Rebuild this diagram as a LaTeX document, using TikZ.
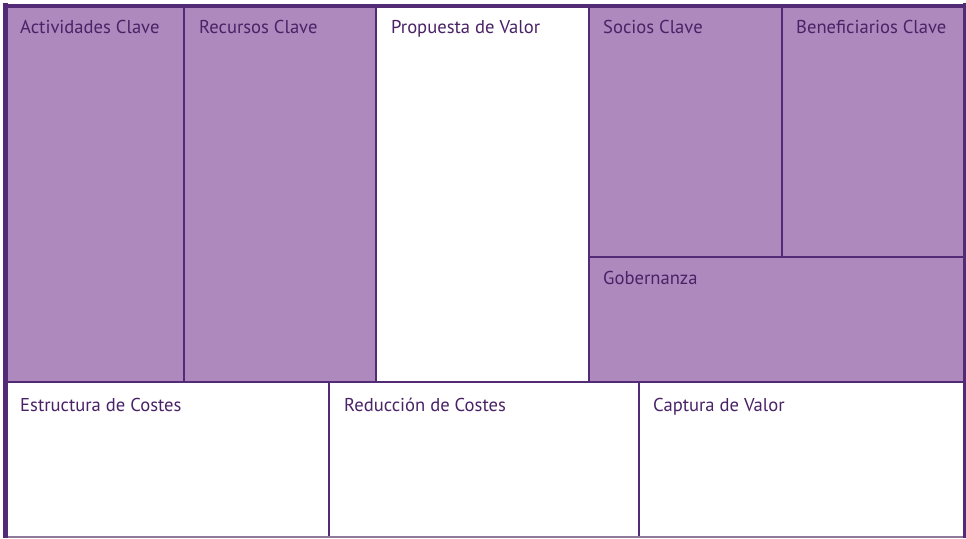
\documentclass[tikz,border=0pt]{standalone}
\usepackage{fontspec}
\setmainfont{PT Sans}
\definecolor{cellfill}{HTML}{AE89BE}
\definecolor{edge}{HTML}{532A75}
\definecolor{ink}{HTML}{4A2266}
\definecolor{bottomedge}{HTML}{8C7A98}
\begin{document}
\begin{tikzpicture}[x=1pt,y=-1pt,
  cell/.style={draw=edge, line width=1.6pt, anchor=north west, inner sep=0pt, outer sep=0pt, rectangle},
  purplecell/.style={cell, fill=cellfill},
  whitecell/.style={cell, fill=white},
  lbl/.style={anchor=base west, inner sep=0pt, text=ink, font=\fontsize{18.6}{22}\selectfont}]
\useasboundingbox (0,0) rectangle (966,538);
\fill[white] (0,0) rectangle (966,538);
% top cells
\node[purplecell, minimum width=178pt, minimum height=376pt] (act) at (6,6) {};
\node[purplecell, minimum width=192pt, minimum height=376pt] (rec) at (184,6) {};
\node[whitecell, minimum width=213pt, minimum height=376pt] (prop) at (376,6) {};
\node[purplecell, minimum width=193pt, minimum height=251pt] (soc) at (589,6) {};
\node[purplecell, minimum width=182pt, minimum height=251pt] (ben) at (782,6) {};
\node[purplecell, minimum width=375pt, minimum height=125pt] (gob) at (589,257) {};
% bottom cells
\node[whitecell, minimum width=323pt, minimum height=155pt] (est) at (6,382) {};
\node[whitecell, minimum width=310pt, minimum height=155pt] (red) at (329,382) {};
\node[whitecell, minimum width=325pt, minimum height=155pt] (cap) at (639,382) {};
% outer frame
\draw[edge, line width=4.7pt] (5.6,3.3) -- (5.6,538);
\draw[edge, line width=4pt] (3.3,6) -- (966,6);
\draw[edge, line width=3.4pt] (964.3,3.3) -- (964.3,538);
\draw[bottomedge, line width=2pt] (8,537) -- (962.6,537);
% labels
\node[lbl] (actL) at (20,33) {Actividades Clave};
\node[lbl] (recL) at (199,33) {Recursos Clave};
\node[lbl] (propL) at (391,33) {Propuesta de Valor};
\node[lbl] (socL) at (603,33) {Socios Clave};
\node[lbl] (benL) at (796,33) {Beneficiarios Clave};
\node[lbl] (gobL) at (603,284) {Gobernanza};
\node[lbl] (estL) at (20,411) {Estructura de Costes};
\node[lbl] (redL) at (344,411) {Reducción de Costes};
\node[lbl] (capL) at (653,411) {Captura de Valor};
\end{tikzpicture}
\end{document}
